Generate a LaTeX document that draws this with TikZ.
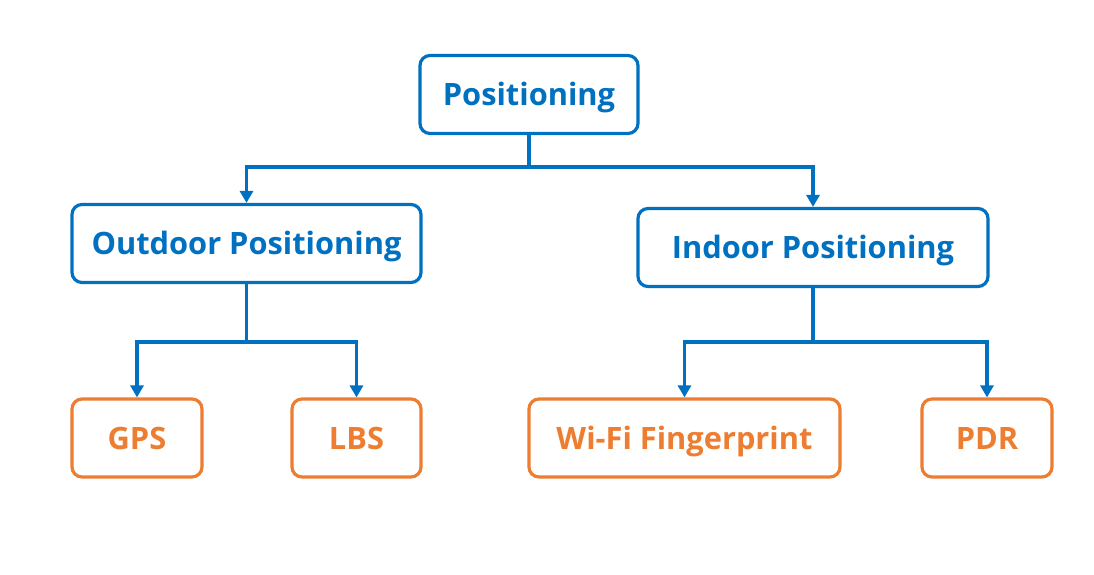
\documentclass[tikz,border=0pt]{standalone}
\usepackage{fontspec}
\setmainfont{Open Sans}
\usetikzlibrary{arrows.meta}
\definecolor{posblue}{RGB}{0,112,192}
\definecolor{posorange}{RGB}{237,125,49}
\tikzset{
  topbox/.style={draw=posblue,text=posblue,line width=1.6pt,rounded corners=5pt,
    minimum height=39pt,text height=11pt,text depth=0pt,
    font=\fontsize{15.4}{18}\selectfont\bfseries},
  leafbox/.style={draw=posorange,text=posorange,line width=1.6pt,rounded corners=5pt,
    minimum height=39pt,text height=11pt,text depth=0pt,
    font=\fontsize{15.4}{18}\selectfont\bfseries},
  conn/.style={draw=posblue,line width=1.6pt,-{Triangle[length=6pt,width=6.5pt]}}
}
\begin{document}
\begin{tikzpicture}[x=0.5pt,y=-0.5pt]
        \useasboundingbox (0,0) rectangle (1094,574);
        % Define the nodes for the categories
        \node[topbox,minimum width=109pt]    (pos)  at (529,94.5)  {Positioning};
        \node[topbox,minimum width=174.5pt]  (out)  at (246.5,243.5) {Outdoor Positioning};
        \node[topbox,minimum width=175pt]    (in)   at (813,247.5) {Indoor Positioning};
        % Define the nodes for the methods
        \node[leafbox,minimum width=65pt]    (gps)  at (137,438)   {GPS};
        \node[leafbox,minimum width=64.5pt]  (lbs)  at (356.5,438) {LBS};
        \node[leafbox,minimum width=155.5pt] (wifi) at (684.5,438) {Wi-Fi Fingerprint};
        \node[leafbox,minimum width=65pt]    (pdr)  at (987,438)   {PDR};
        % Branch points
        \coordinate (j0) at (529,167);
        \coordinate (j1) at (246.5,342);
        \coordinate (j2) at (813,342);
        % Connect the nodes
        \draw[posblue,line width=1.6pt] (pos) -- (j0);
        \draw[conn] (j0) -| (out);
        \draw[conn] (j0) -| (in);
        \draw[posblue,line width=1.6pt] (out) -- (j1);
        \draw[conn] (j1) -| (gps);
        \draw[conn] (j1) -| (lbs);
        \draw[posblue,line width=1.6pt] (in) -- (j2);
        \draw[conn] (j2) -| (wifi);
        \draw[conn] (j2) -| (pdr);
    \end{tikzpicture}
\end{document}
